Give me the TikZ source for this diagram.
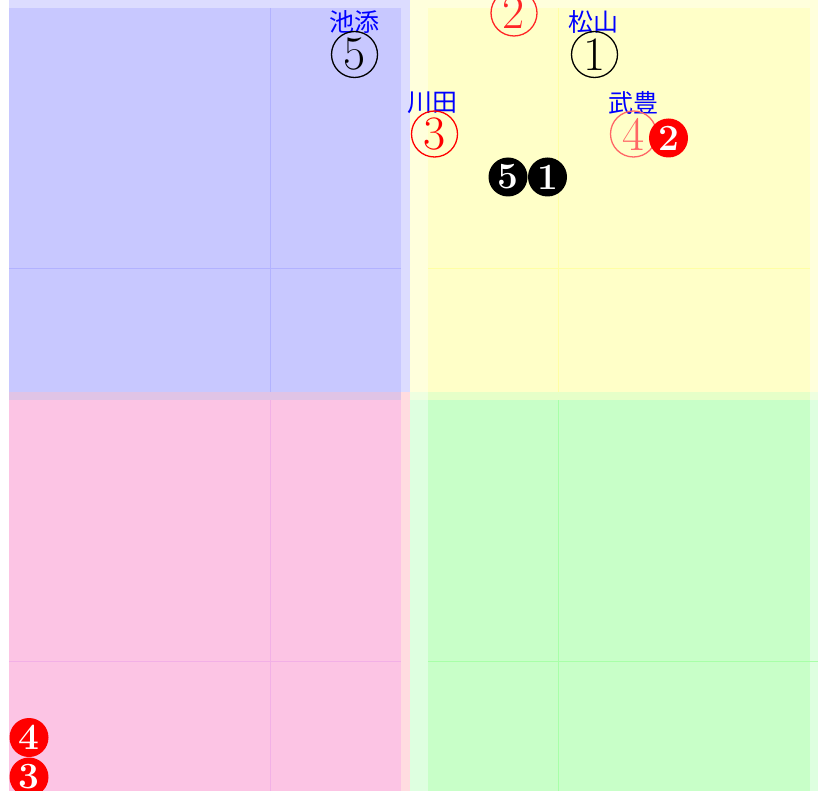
\documentclass[tikz,border=0pt]{standalone}
\usepackage{fontspec}
\newfontfamily\cjk{Noto Sans CJK JP}
\definecolor{bluelight}{HTML}{DCDCFF}
\definecolor{bluedark}{HTML}{C8C8FF}
\definecolor{purpleband}{HTML}{E0C4E6}
\definecolor{pinklight}{HTML}{FFDCE0}
\definecolor{pinkdark}{HTML}{FCC4E4}
\definecolor{yellowlight}{HTML}{FFFFDC}
\definecolor{yellowdark}{HTML}{FFFFC8}
\definecolor{ygband}{HTML}{E6FFC8}
\definecolor{ygbandlight}{HTML}{EEFFE0}
\definecolor{greenlight}{HTML}{DEFFE0}
\definecolor{greendark}{HTML}{C8FFC8}
\definecolor{blueline}{HTML}{B2B2FF}
\definecolor{pinkline}{HTML}{F2B0E6}
\definecolor{greenline}{HTML}{A8FFA8}
\definecolor{yellowline}{HTML}{FFFFA4}
\tikzset{
  ring/.style={circle, draw, line width=1.3pt, minimum size=46pt, inner sep=0pt, font=\fontsize{48}{48}\selectfont},
  disc/.style={circle, fill, minimum size=39pt, inner sep=0pt, font=\bfseries\fontsize{37}{37}\selectfont},
  lbl/.style={text=blue, inner sep=0pt, font=\cjk\fontsize{25}{25}\selectfont},
  gridline/.style={line width=1pt}
}
\begin{document}
\begin{tikzpicture}[x=1pt,y=-1pt]
\useasboundingbox (0,0) rectangle (818,791);
% backgrounds
\fill[bluelight] (9,0) rectangle (410,392);
\fill[bluedark] (9,8) rectangle (401,392);
\fill[purpleband] (9,392) rectangle (401,400);
\fill[pinklight] (401,392) rectangle (410,791);
\fill[pinkdark] (9,400) rectangle (401,791);
\fill[yellowlight] (410,0) rectangle (818,392);
\fill[yellowdark] (428,8) rectangle (810,392);
\fill[ygbandlight] (410,392) rectangle (818,400);
\fill[ygband] (428,392) rectangle (810,400);
\fill[greenlight] (410,400) rectangle (818,791);
\fill[greendark] (428,400) rectangle (810,791);
% grid lines
\draw[gridline, blueline] (270,8) -- (270,392) (9,269) -- (401,269);
\draw[gridline, pinkline] (270,400) -- (270,791) (9,661) -- (401,661);
\draw[gridline, yellowline] (558,8) -- (558,392) (428,269) -- (810,269);
\draw[gridline, greenline] (558,400) -- (558,791) (428,661) -- (818,661);
% labels
\node[lbl] (l5) at (354,22) {池添};
\node[lbl] (l1) at (593,22) {松山};
\node[lbl] (l3) at (432,103) {川田};
\node[lbl] (l4) at (633,103) {武豊};
% open circles
\node[ring, black] (o5) at (354.5,54.5) {5};
\node[ring, black] (o1) at (594.5,54.5) {1};
\node[ring, red!85] (o2) at (514,13) {2};
\node[ring, red] (o3) at (434.5,134) {3};
\node[ring, red!60] (o4) at (633.5,134) {4};
% filled discs
\node[disc, red, text=white] (f2) at (668.5,138) {2};
\node[disc, black, text=white] (f5) at (508,177) {5};
\node[disc, black, text=white] (f1) at (547.5,177) {1};
\node[disc, red, text=white] (f4) at (29,737.5) {4};
\node[disc, red, text=white] (f3) at (29,777) {3};
\end{tikzpicture}
\end{document}
